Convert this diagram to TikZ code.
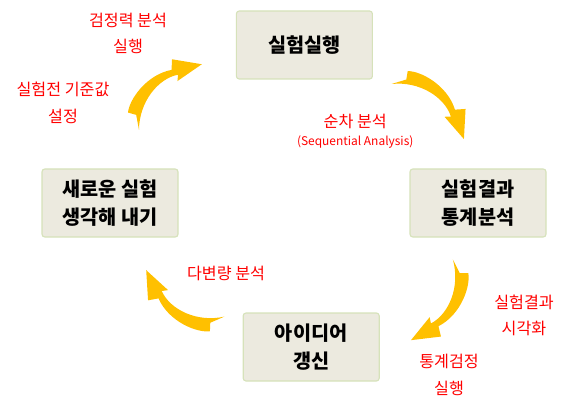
\documentclass[tikz,border=0pt]{standalone}
\usepackage{fontspec}
\setmainfont{Noto Sans CJK KR}
\usetikzlibrary{positioning}
\definecolor{boxfill}{RGB}{236,234,223}
\definecolor{boxline}{RGB}{214,226,186}
\definecolor{swooshgold}{RGB}{255,192,0}
\tikzset{
  stepbox/.style={draw=boxline, fill=boxfill, rounded corners=2pt, thick,
    minimum width=3.4cm, minimum height=1.7cm, align=center, inner sep=2pt,
    font=\fontsize{14}{20}\selectfont\bfseries},
  note/.style={text=red, align=center, inner sep=1pt,
    font=\fontsize{11.5}{19}\selectfont},
  swoosh/.pic={
    \fill[swooshgold, scale=0.025] (0,0) -- (9,12.5) -- (5,20)
      .. controls (15,28) and (45,33) .. (66,18)
      -- (74,25) -- (91,0) -- (62,6) -- (67,10)
      .. controls (50,22) and (20,19) .. (0,0) -- cycle;
  },
}

\begin{document}
\begin{tikzpicture}

  \useasboundingbox (0,0) rectangle (14.3,10.275);

  % the four steps
  \node[stepbox] (run)    at (7.61, 9.15) {실험실행};
  \node[stepbox] (result) at (11.95, 5.2) {실험결과\\통계분석};
  \node[stepbox] (idea)   at (7.78, 1.6)  {아이디어\\갱신};
  \node[stepbox] (newexp) at (2.75, 5.2)  {새로운 실험\\생각해 내기};

  % arrows between them
  \pic[rotate=46.3]  (swa) at (3.475, 7.025) {swoosh};
  \pic[rotate=-37.3] (swb) at (9.79, 8.175)  {swoosh};
  \pic[rotate=-117.4] (swc) at (11.32, 3.79) {swoosh};
  \pic[rotate=149.3] (swd) at (5.61, 2.36)   {swoosh};

  % notes
  \node[note] (power)  at (3.2, 9.44)   {검정력 분석\\실행};
  \node[note] (base)   at (1.575, 7.71) {실험전 기준값\\설정};
  \node[note] (seq)    at (8.88, 7.0)
    {순차 분석\\[-6pt]{\fontsize{8.5}{10}\selectfont (Sequential Analysis)}};
  \node[note] (multi)  at (5.65, 3.45)  {다변량 분석};
  \node[note] (visual) at (13.1, 2.39)  {실험결과\\시각화};
  \node[note] (test)   at (11.225, 0.91) {통계검정\\실행};

\end{tikzpicture}
\end{document}
